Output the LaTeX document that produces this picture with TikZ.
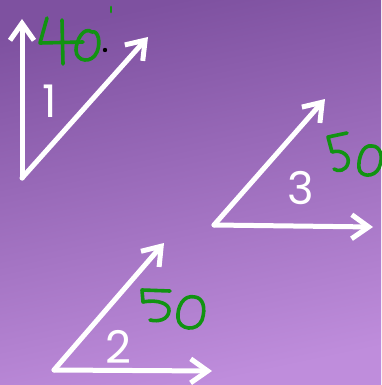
\documentclass[tikz,border=0pt]{standalone}
\usepackage{fontspec}
\usepackage{xcolor}
\usepackage{tikz}
\usetikzlibrary{arrows.meta}

\newfontfamily\numfont{Poppins}

\definecolor{bgtop}{HTML}{7E51A0}
\definecolor{bgbot}{HTML}{BF8DDC}
\definecolor{pen}{HTML}{119311}

\tikzset{
  ray/.style={white, line width=5pt, line cap=round,
    -{Straight Barb[length=17pt,width=24pt]}},
  ink/.style={pen, line width=3.6pt, line cap=round, line join=round},
  num/.style={white, font=\numfont\fontsize{45}{45}\selectfont}
}

\begin{document}
\begin{tikzpicture}[x=1pt,y=-1pt]

\shade[top color=bgtop, bottom color=bgbot, shading angle=12]
  (0,0) rectangle (381,385);
\useasboundingbox (0,0) rectangle (381,385);

% angle 1
\coordinate (V1) at (22,178);
\coordinate (A1) at (22,19);
\coordinate (B1) at (148,37);
\draw[ray] (V1) -- (A1);
\draw[ray] (V1) -- (B1);
\node[num] (n1) at (50,101) {1};

% angle 3
\coordinate (V3) at (214,225);
\coordinate (A3) at (325,99);
\coordinate (B3) at (373,227);
\draw[ray] (V3) -- (A3);
\draw[ray] (V3) -- (B3);
\node[num] (n3) at (301,188) {3};

% angle 2
\coordinate (V2) at (54,370);
\coordinate (A2) at (164,243);
\coordinate (B2) at (212,371);
\draw[ray] (V2) -- (A2);
\draw[ray] (V2) -- (B2);
\node[num] (n2) at (118,347) {2};

% handwriting: 40
\draw[ink] (47,18) -- (40,43) -- (83,42);
\draw[ink] (62,20) -- (63,64);
\draw[ink] (92,32) .. controls (84,26) and (76,40) .. (76,50)
  .. controls (76,62) and (92,64) .. (97,52)
  .. controls (101,42) and (98,30) .. (92,32);
\draw[ink, line width=2.8pt] (111,7) -- (111,12);
\fill[black] (105,50) circle (2.2pt);

% handwriting: 50 (angle 3)
\draw[ink] (347,133) -- (328,137) -- (332,152)
  .. controls (342,149) and (350,156) .. (348,163)
  .. controls (346,171) and (338,172) .. (334,169);
\draw[ink] (372,146) .. controls (362,144) and (358,160) .. (359,168)
  .. controls (360,177) and (374,178) .. (379,168)
  .. controls (384,156) and (380,146) .. (372,146);

% handwriting: 50 (angle 2)
\draw[ink] (170,291) -- (142,290) -- (143,302)
  .. controls (158,299) and (170,304) .. (169,311)
  .. controls (168,320) and (158,322) .. (150,320);
\draw[ink] (195,297) .. controls (183,294) and (177,308) .. (178,318)
  .. controls (179,330) and (197,332) .. (202,320)
  .. controls (206,308) and (203,298) .. (195,297);

\end{tikzpicture}
\end{document}
